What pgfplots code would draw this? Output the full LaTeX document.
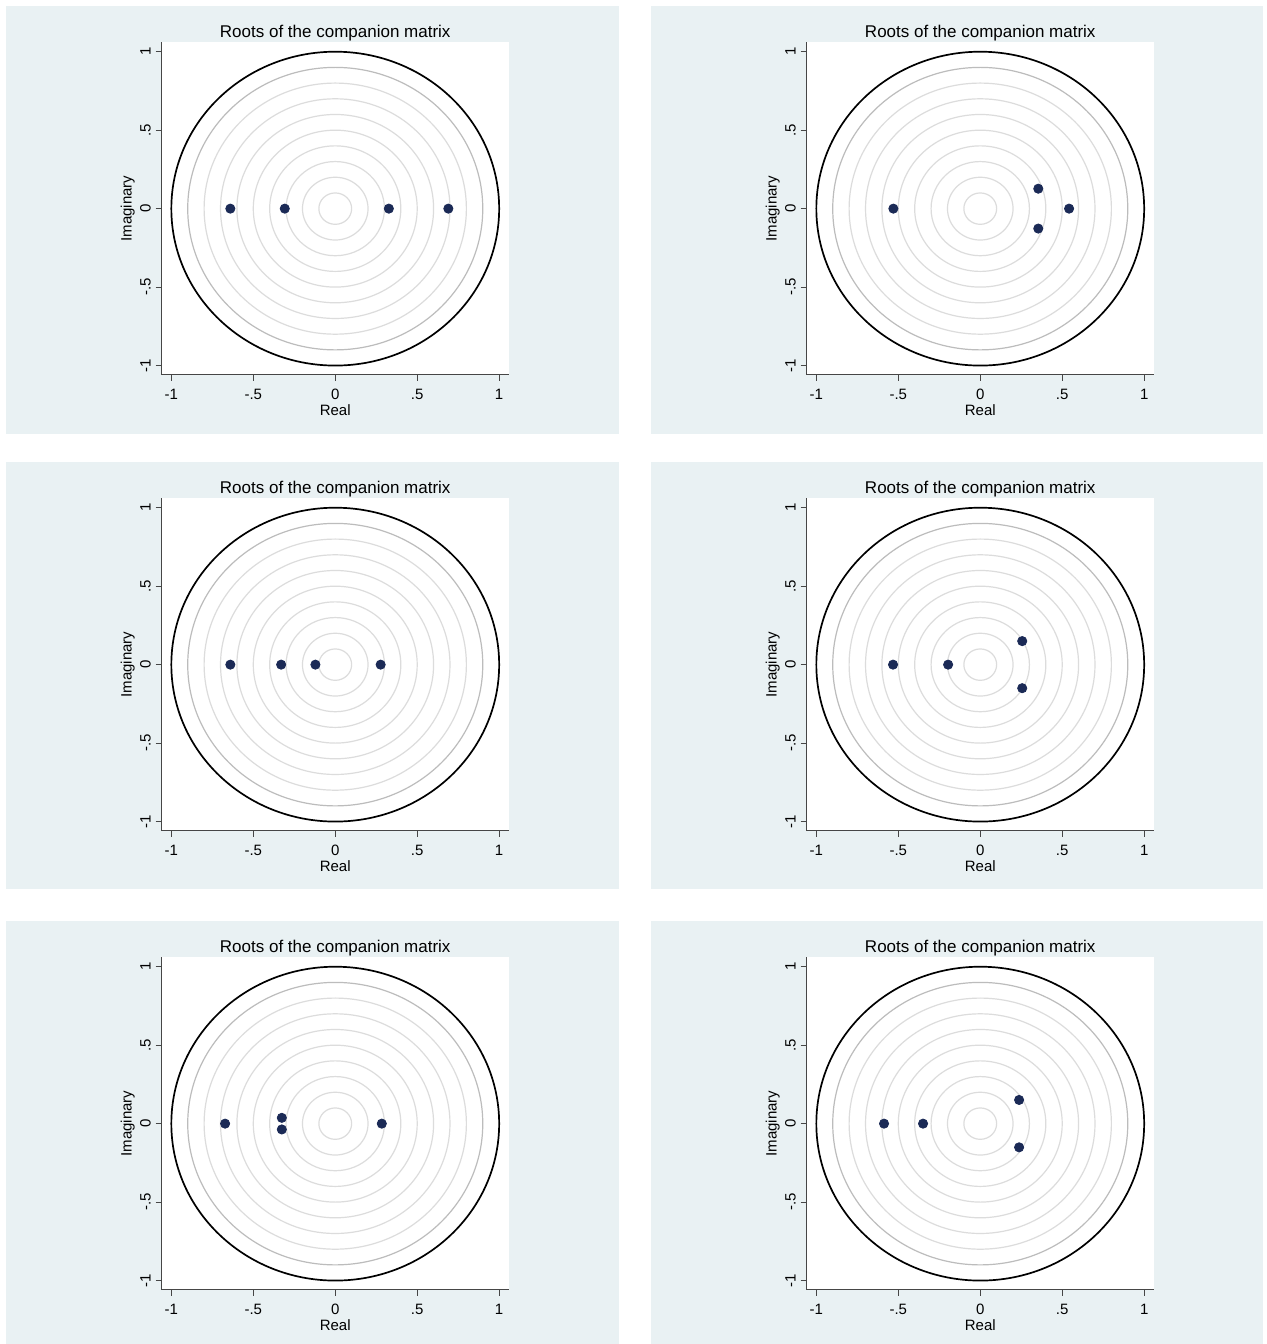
\documentclass[border=0pt]{standalone}
\usepackage{fontspec}
\setmainfont{Liberation Sans}
\usepackage{pgfplots}
\pgfplotsset{compat=1.18}
\definecolor{bgc}{RGB}{233,241,243}
\definecolor{mk}{RGB}{27,42,86}
\definecolor{ring}{RGB}{220,220,220}
\definecolor{ringd}{RGB}{188,188,188}
\definecolor{axc}{RGB}{70,70,70}
\pgfplotsset{rootstyle/.style={
  scale only axis, width=173.75pt, height=166.35pt,
  xmin=-1.06, xmax=1.06, ymin=-1.06, ymax=1.06,
  axis lines=left, axis line style={-, draw=axc, line width=0.5pt},
  axis background/.style={fill=white},
  xtick={-1,-0.5,0,0.5,1}, xticklabels={-1,-.5,0,.5,1},
  ytick={-1,-0.5,0,0.5,1}, yticklabels={-1,-.5,0,.5,1},
  tick align=outside, major tick length=3pt,
  tick style={draw=axc, line width=0.5pt},
  ticklabel style={font=\fontsize{7.5}{9}\selectfont},
  xticklabel style={anchor=base, yshift=-9.5pt},
  yticklabel style={rotate=90, anchor=base},
  yticklabel shift=2.5pt,
  title={Roots of the companion matrix},
  title style={at={(axis description cs:0.5,1)}, anchor=base, yshift=-3.6pt, font=\fontsize{8.5}{10}\selectfont},
  xlabel={Real}, ylabel={Imaginary},
  xlabel style={at={(axis description cs:0.5,0)}, anchor=base, yshift=-20.5pt, font=\fontsize{7.5}{9}\selectfont},
  ylabel style={at={(axis description cs:-0.0863,0.5)}, anchor=base, font=\fontsize{7.5}{9}\selectfont},
},
rootmark/.style={only marks, mark=*, mark size=2.3pt, color=mk, draw=mk, fill=mk}}
\newcommand{\rings}{%
  \draw[ring, line width=0.6pt] (axis cs:0,0) ellipse [x radius=0.1, y radius=0.1];
  \draw[ring, line width=0.6pt] (axis cs:0,0) ellipse [x radius=0.2, y radius=0.2];
  \draw[ring, line width=0.6pt] (axis cs:0,0) ellipse [x radius=0.3, y radius=0.3];
  \draw[ring, line width=0.6pt] (axis cs:0,0) ellipse [x radius=0.4, y radius=0.4];
  \draw[ring, line width=0.6pt] (axis cs:0,0) ellipse [x radius=0.5, y radius=0.5];
  \draw[ring, line width=0.6pt] (axis cs:0,0) ellipse [x radius=0.6, y radius=0.6];
  \draw[ring, line width=0.6pt] (axis cs:0,0) ellipse [x radius=0.7, y radius=0.7];
  \draw[ring, line width=0.6pt] (axis cs:0,0) ellipse [x radius=0.8, y radius=0.8];
  \draw[ringd, line width=0.6pt] (axis cs:0,0) ellipse [x radius=0.9, y radius=0.9];
  \draw[black, line width=0.85pt] (axis cs:0,0) ellipse [x radius=1, y radius=1];
}
\begin{document}
\begin{tikzpicture}
\fill[white] (0pt,0pt) rectangle (633pt,672pt);
\fill[bgc] (3pt,455pt) rectangle (309.65pt,669pt);
\fill[bgc] (325.5pt,455pt) rectangle (631.5pt,669pt);
\fill[bgc] (3pt,227.5pt) rectangle (309.65pt,441pt);
\fill[bgc] (325.5pt,227.5pt) rectangle (631.5pt,441pt);
\fill[bgc] (3pt,0pt) rectangle (309.65pt,211.5pt);
\fill[bgc] (325.5pt,0pt) rectangle (631.5pt,211.5pt);

\begin{axis}[rootstyle, at={(80.75pt,650.85pt)}, anchor=north west]
\rings
\addplot[rootmark] coordinates {(-0.64,0) (-0.308,0) (0.327,0) (0.69,0)};
\end{axis}

\begin{axis}[rootstyle, at={(403.25pt,650.85pt)}, anchor=north west]
\rings
\addplot[rootmark] coordinates {(-0.53,0) (0.542,0) (0.354,0.127) (0.354,-0.127)};
\end{axis}

\begin{axis}[rootstyle, at={(80.75pt,422.85pt)}, anchor=north west]
\rings
\addplot[rootmark] coordinates {(-0.64,0) (-0.33,0) (-0.121,0) (0.277,0)};
\end{axis}

\begin{axis}[rootstyle, at={(403.25pt,422.85pt)}, anchor=north west]
\rings
\addplot[rootmark] coordinates {(-0.532,0) (-0.196,0) (0.256,0.15) (0.256,-0.15)};
\end{axis}

\begin{axis}[rootstyle, at={(80.75pt,193.35pt)}, anchor=north west]
\rings
\addplot[rootmark] coordinates {(-0.672,0) (-0.326,0.037) (-0.326,-0.037) (0.284,0)};
\end{axis}

\begin{axis}[rootstyle, at={(403.25pt,193.35pt)}, anchor=north west]
\rings
\addplot[rootmark] coordinates {(-0.587,0) (-0.349,0) (0.237,0.151) (0.237,-0.151)};
\end{axis}
\end{tikzpicture}
\end{document}
